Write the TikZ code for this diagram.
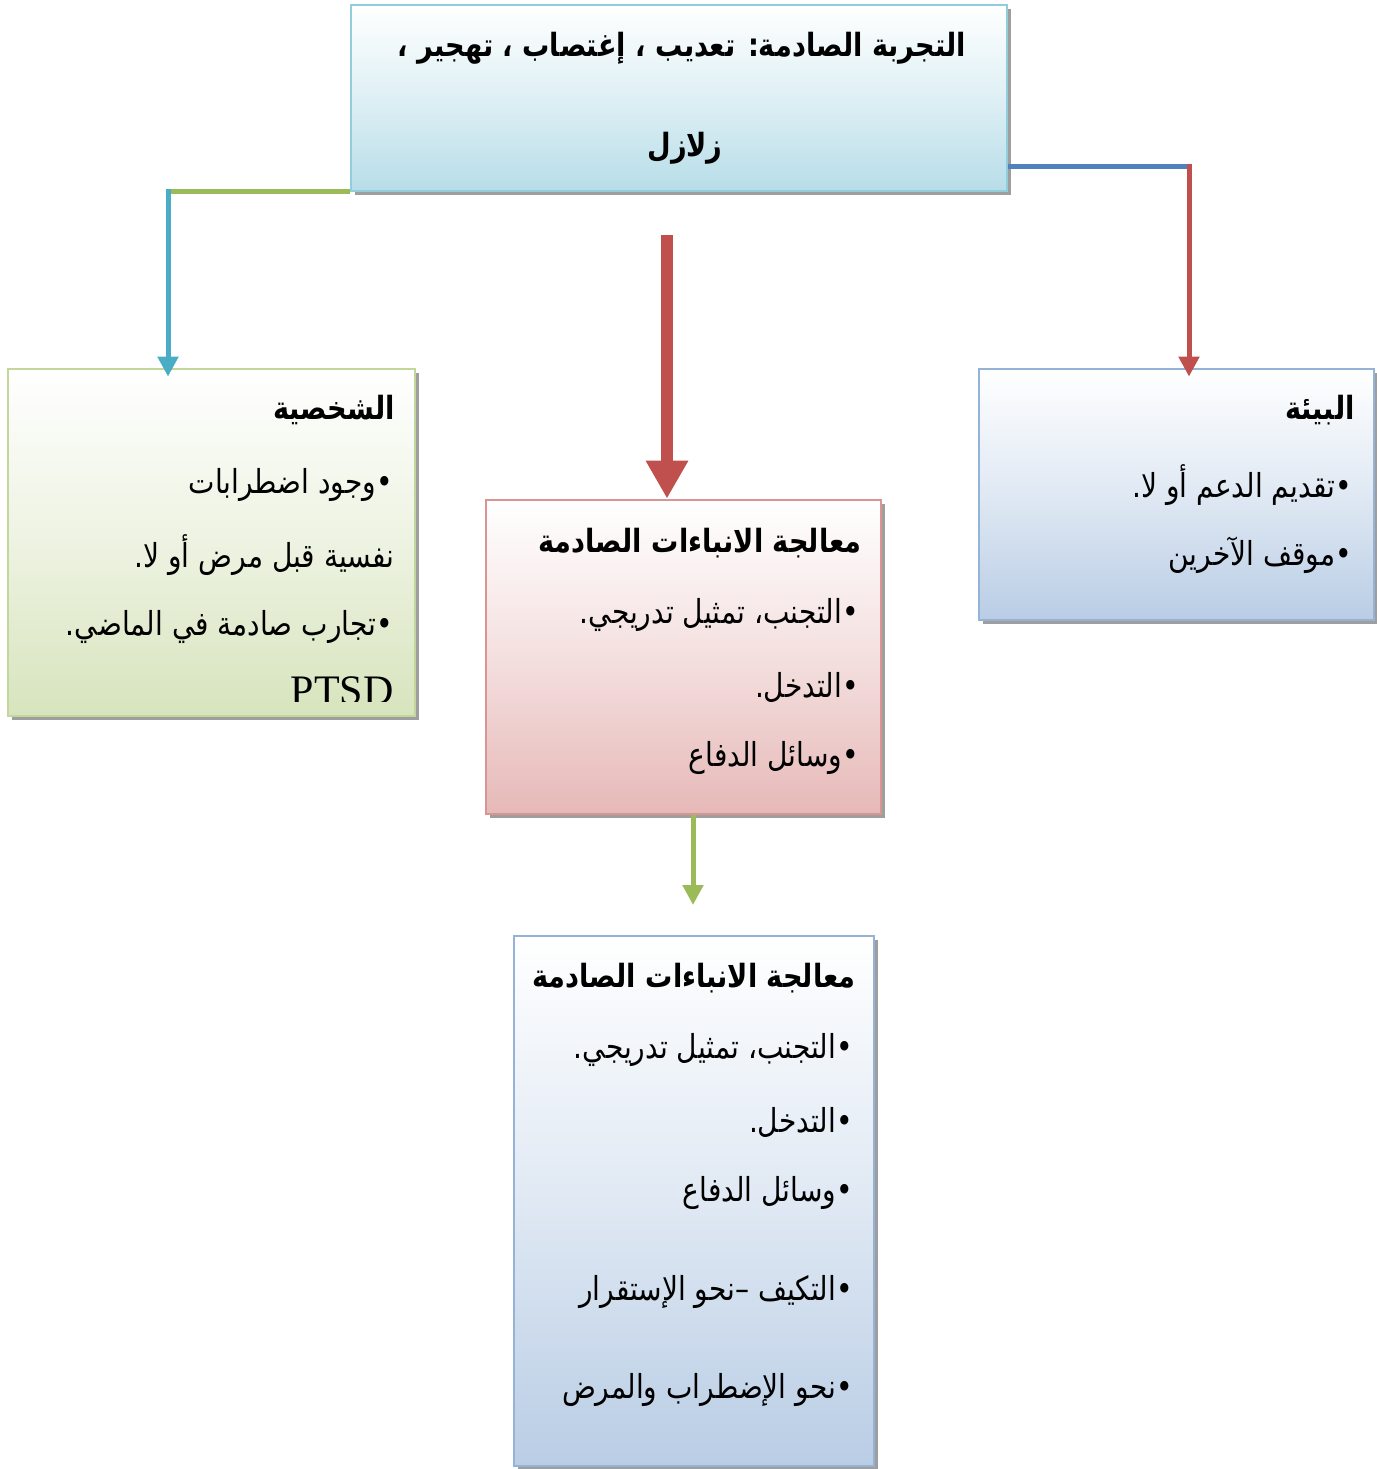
\documentclass[tikz,border=0pt]{standalone}
\usepackage{fontspec}
\setmainfont{Liberation Serif}
\newfontfamily\arabicfont[Script=Arabic, FakeStretch=0.85]{DejaVu Sans}
\TeXXeTstate=1
\usetikzlibrary{arrows.meta,shadows,fit}

\definecolor{trauLine}{HTML}{92CDDC}
\definecolor{trauFill}{HTML}{B7DDE8}
\definecolor{persLine}{HTML}{C3D69B}
\definecolor{persFill}{HTML}{D7E4BD}
\definecolor{procLine}{HTML}{D99594}
\definecolor{procFill}{HTML}{E6B9B8}
\definecolor{envLine}{HTML}{95B3D7}
\definecolor{envFill}{HTML}{B9CDE5}
\definecolor{arrGreen}{HTML}{9BBB59}
\definecolor{arrCyan}{HTML}{4BACC6}
\definecolor{arrBlue}{HTML}{4F81BD}
\definecolor{arrRed}{HTML}{C0504D}

\tikzset{
  box/.style={draw=#1Line, line width=1.4pt, inner sep=0pt,
    top color=white, bottom color=#1Fill, middle color=#1Fill!45,
    drop shadow={shadow xshift=1.8pt, shadow yshift=-1.8pt, fill=black!38, opacity=1}},
  txt/.style={anchor=east, inner sep=0pt, font=\arabicfont\fontsize{16.5}{19}\selectfont},
  head/.style={txt, font=\arabicfont\bfseries\fontsize{16}{19}\selectfont},
  link/.style={line width=2.5pt},
  tip/.style={-{Triangle[width=10pt,length=10pt]}, line width=2.5pt}
}

\begin{document}
\begin{tikzpicture}[x=0.5pt,y=-0.5pt]
  \useasboundingbox (0,0) rectangle (1377,1469);

  % boxes
  \node[box=trau, fit={(351,5) (1007,191)}] (trauma) {};
  \node[box=pers, fit={(8,369) (415,716)}] (pers) {};
  \node[box=proc, fit={(486,500) (881,814)}] (proc) {};
  \node[box=env, fit={(979,369) (1374,620)}] (env) {};
  \node[box=env, fit={(514,936) (874,1466)}] (adapt) {};

  % top box
  \node[head, anchor=center] (traumaA) at (682,48) {\beginR التجربة الصادمة: تعديب ، إغتصاب ، تهجير ،\endR};
  \node[head, anchor=center] (traumaB) at (685,148) {\beginR زلازل\endR};

  % personality
  \node[head] (persH) at (395,410) {\beginR الشخصية\endR};
  \node[txt] (pers1) at (393,485) {\beginR •وجود اضطرابات\endR};
  \node[txt] (pers2) at (395,555) {\beginR نفسية قبل مرض أو لا.\endR};
  \node[txt] (pers3) at (393,627) {\beginR •تجارب صادمة في الماضي.\endR};
  \begin{scope}
    \clip (8,640) rectangle (415,701);
    \node[anchor=base east, inner sep=0pt, font=\fontsize{21}{24}\selectfont] (pers4) at (394,704) {PTSD};
  \end{scope}

  % processing
  \node[head] (procH) at (862,543) {\beginR معالجة الانباءات الصادمة\endR};
  \node[txt] (proc1) at (859,615) {\beginR •التجنب، تمثيل تدريجي.\endR};
  \node[txt] (proc2) at (859,687) {\beginR •التدخل.\endR};
  \node[txt] (proc3) at (859,758) {\beginR •وسائل الدفاع\endR};

  % environment
  \node[head] (envH) at (1355,410) {\beginR البيئة\endR};
  \node[txt] (env1) at (1352,485) {\beginR •تقديم الدعم أو لا.\endR};
  \node[txt] (env2) at (1352,555) {\beginR •موقف الآخرين\endR};

  % adaptation
  \node[head] (adaptH) at (856,978) {\beginR معالجة الانباءات الصادمة\endR};
  \node[txt] (adapt1) at (853,1050) {\beginR •التجنب، تمثيل تدريجي.\endR};
  \node[txt] (adapt2) at (853,1122) {\beginR •التدخل.\endR};
  \node[txt] (adapt3) at (853,1193) {\beginR •وسائل الدفاع\endR};
  \node[txt] (adapt4) at (853,1292) {\beginR •التكيف –نحو الإستقرار\endR};
  \node[txt] (adapt5) at (853,1390) {\beginR •نحو الإضطراب والمرض\endR};

  % connectors
  \coordinate (lcorner) at (168,191);
  \coordinate (rcorner) at (1189,166);
  \coordinate (mstart) at (667,235);
  \coordinate (gtip) at (693,905);

  \draw[link, arrGreen] (trauma.west |- lcorner) -- (lcorner);
  \draw[tip, arrCyan] ([yshift=1.2pt]lcorner) -- ([yshift=-4.5pt]pers.north -| lcorner);
  \draw[link, arrBlue] (trauma.east |- rcorner) -- (rcorner);
  \draw[tip, arrRed] ([yshift=1.2pt]rcorner) -- ([yshift=-4.5pt]env.north -| rcorner);
  \draw[-{Triangle[width=20pt,length=19pt]}, line width=6pt, arrRed] (mstart) -- (proc.north -| mstart);
  \draw[tip, arrGreen] (proc.south -| gtip) -- (gtip);
\end{tikzpicture}
\end{document}
